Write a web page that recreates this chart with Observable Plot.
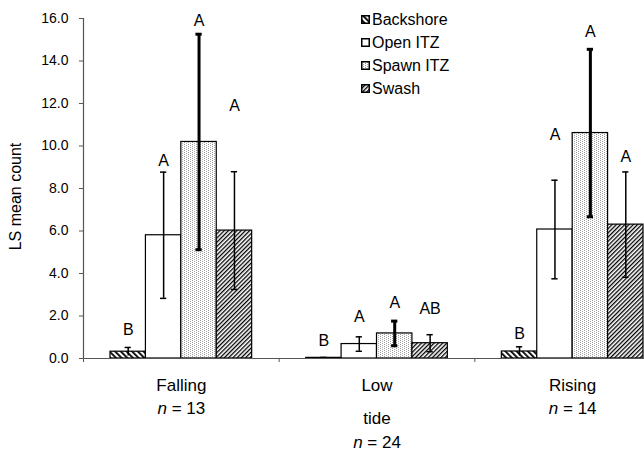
<!DOCTYPE html>
<html><head><meta charset="utf-8">
<script src="https://cdn.jsdelivr.net/npm/d3@7"></script>
<script src="https://cdn.jsdelivr.net/npm/@observablehq/plot@0.6"></script>
<style>
html,body{margin:0;padding:0;overflow:hidden;background:#fff;}
#wrap{position:relative;width:644px;height:453px;overflow:hidden;}
#wrap > svg{max-width:none !important;display:block;}
#legend{position:absolute;left:361px;top:8px;font-family:"Liberation Sans",Arial,sans-serif;font-size:16px;color:#000;}
.row{height:23px;display:flex;align-items:center;}
.row svg{margin-right:2px;}
</style></head><body><div id="wrap"><div id="legend"></div></div>
<script>
// ---- data ----
const tides = ["Falling", "Low", "Rising"];
const nLabels = ["n = 13", "n = 24", "n = 14"];
const habitats = ["Backshore", "Open ITZ", "Spawn ITZ", "Swash"];
const yTicks = [0, 2, 4, 6, 8, 10, 12, 14, 16];
const yLabel = "LS mean count";
const xLabel = "tide";

const backshore = [0.32, 0.03, 0.33];
const openITZ   = [5.80, 0.68, 6.07];
const spawnITZ  = [10.19, 1.18, 10.61];
const swash     = [6.02, 0.72, 6.30];

const errBackshore = [0.20, 0.02, 0.22];
const errOpen      = [2.97, 0.34, 2.32];
const errSpawn     = [5.07, 0.58, 3.94];
const errSwash     = [2.77, 0.40, 2.48];

const lettersBackshore = ["B", "B", "B"];
const lettersOpen      = ["A", "A", "A"];
const lettersSpawn     = ["A", "A", "A"];
const lettersSwash     = ["A", "AB", "A"];

const letterYBackshore = [1.35, 0.84, 1.15];
const letterYOpen      = [9.28, 1.94, 10.51];
const letterYSpawn     = [15.90, 2.64, 15.38];
const letterYSwash     = [11.88, 2.33, 9.49];

// ---- build table ----
const values = [backshore, openITZ, spawnITZ, swash];
const errs = [errBackshore, errOpen, errSpawn, errSwash];
const letters = [lettersBackshore, lettersOpen, lettersSpawn, lettersSwash];
const letterY = [letterYBackshore, letterYOpen, letterYSpawn, letterYSwash];
const fills = ["url(#pBack)", "white", "url(#pSpawn)", "url(#pSwash)"];

const pad = 0.138, bw = (1 - 2 * pad) / 4, cap = 0.016;
const rows = habitats.flatMap((h, hi) => tides.map((t, ti) => {
  const x1 = ti + pad + hi * bw;
  return {h, hi, t, ti, v: values[hi][ti], e: errs[hi][ti], letter: letters[hi][ti],
    ly: letterY[hi][ti], x1, x2: x1 + bw, xc: x1 + bw / 2, fill: fills[hi]};
}));
const tideRows = tides.map((t, i) => ({t, i, xc: i + 0.5, n: nLabels[i]}));

const svg = Plot.plot({
  width: 670, height: 453,
  marginLeft: 83, marginRight: 0, marginTop: 18, marginBottom: 95,
  style: {fontFamily: "'Liberation Sans', Arial, sans-serif", fontSize: "14px", background: "white", color: "black", maxWidth: "none"},
  x: {type: "linear", domain: [0, 3], axis: null},
  y: {domain: [0, 16], axis: null},
  marks: [
    Plot.rectY(rows, {x1: "x1", x2: "x2", y1: 0, y2: "v", fill: d => d.fill, stroke: "black", strokeWidth: 1.2}),
    Plot.ruleX(rows, {x: "xc", y1: d => d.v - d.e, y2: d => d.v + d.e, stroke: "black", strokeWidth: d => d.hi === 2 ? 3 : 1.5}),
    Plot.ruleY(rows, {y: d => d.v + d.e, x1: d => d.xc - cap, x2: d => d.xc + cap, stroke: "black", strokeWidth: d => d.hi === 2 ? 3 : 1.5}),
    Plot.ruleY(rows.filter(d => d.hi !== 0), {y: d => d.v - d.e, x1: d => d.xc - cap, x2: d => d.xc + cap, stroke: "black", strokeWidth: d => d.hi === 2 ? 3 : 1.5}),
    Plot.text(rows, {x: "xc", y: "ly", text: "letter", fontSize: 16, fill: "black"}),
    Plot.ruleY([0], {stroke: "#555", strokeWidth: 1.2}),
    Plot.ruleX([0], {stroke: "#555", strokeWidth: 1.2}),
    Plot.axisY({ticks: yTicks, tickFormat: d => d.toFixed(1), tickSize: 4, tickPadding: 11, label: null, stroke: "#555", fontSize: 14}),
    Plot.axisX({ticks: [0, 1, 2, 3], tickFormat: () => "", tickSize: 4, label: null, stroke: "#555"}),
    Plot.text(tideRows, {x: "xc", y: 0, dy: 27, text: "t", fontSize: 17, fill: "black"}),
    Plot.text(tideRows.filter(d => d.i !== 1), {x: "xc", y: 0, dy: 50, text: "n", fontSize: 17, fill: "black"}),
    Plot.text(tideRows.filter(d => d.i === 1), {x: "xc", y: 0, dy: 84, text: "n", fontSize: 17, fill: "black"}),
    Plot.text([xLabel], {x: 1.5, y: 0, dy: 60, text: d => d, fontSize: 17, fill: "black"}),
    Plot.text([yLabel], {frameAnchor: "left", textAnchor: "middle", dx: -68, dy: 8, rotate: -90, text: d => d, fontSize: 16, fill: "black"})
  ]
});
svg.style.maxWidth = "none";

// patterns
const defs = d3.select(svg).insert("defs", ":first-child");
const pb = defs.append("pattern").attr("id", "pBack").attr("patternUnits", "userSpaceOnUse")
  .attr("width", 4).attr("height", 4).attr("patternTransform", "rotate(-45)");
pb.append("rect").attr("width", 4).attr("height", 4).attr("fill", "white");
pb.append("rect").attr("width", 1.8).attr("height", 4).attr("fill", "black");
const ps = defs.append("pattern").attr("id", "pSwash").attr("patternUnits", "userSpaceOnUse")
  .attr("width", 3).attr("height", 3).attr("patternTransform", "rotate(45)");
ps.append("rect").attr("width", 3).attr("height", 3).attr("fill", "white");
ps.append("rect").attr("width", 1.3).attr("height", 3).attr("fill", "black");
const pp = defs.append("pattern").attr("id", "pSpawn").attr("patternUnits", "userSpaceOnUse")
  .attr("width", 4).attr("height", 2);
pp.append("rect").attr("width", 4).attr("height", 2).attr("fill", "white");
pp.append("rect").attr("x", 0).attr("y", 0).attr("width", 1).attr("height", 1).attr("fill", "#999");
pp.append("rect").attr("x", 2).attr("y", 1).attr("width", 1).attr("height", 1).attr("fill", "#aaa");

// italic n
svg.querySelectorAll("text").forEach(t => {
  if (t.childElementCount === 0 && /^n = /.test(t.textContent)) {
    const rest = t.textContent.slice(1);
    t.textContent = "";
    const a = document.createElementNS("http://www.w3.org/2000/svg", "tspan");
    a.setAttribute("font-style", "italic"); a.textContent = "n";
    const b = document.createElementNS("http://www.w3.org/2000/svg", "tspan");
    b.textContent = rest;
    t.appendChild(a); t.appendChild(b);
  }
});

document.getElementById("wrap").insertBefore(svg, document.getElementById("legend"));

// legend
const lg = d3.select("#legend");
habitats.forEach((h, hi) => {
  const r = lg.append("div").attr("class", "row");
  const s = r.append("svg").attr("width", 9).attr("height", 9);
  s.append("rect").attr("x", 0.75).attr("y", 0.75).attr("width", 7.5).attr("height", 7.5)
    .attr("fill", fills[hi]).attr("stroke", "black").attr("stroke-width", 1.5);
  r.append("span").text(h);
});
</script></body></html>
